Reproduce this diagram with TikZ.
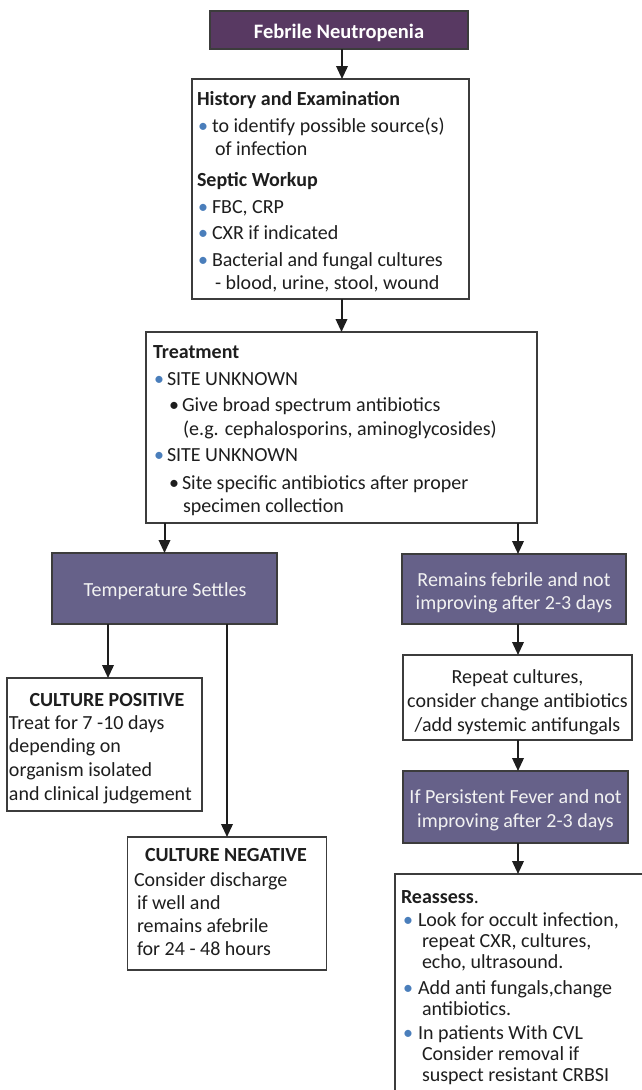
\documentclass[tikz,border=0pt]{standalone}
\usepackage{fontspec}
\setmainfont{Carlito}
\usetikzlibrary{arrows.meta,calc}
\definecolor{febr}{RGB}{88,57,98}
\definecolor{slate}{RGB}{102,97,137}
\definecolor{edge}{RGB}{60,60,60}
\definecolor{bulblue}{RGB}{74,126,187}
\definecolor{paletxt}{RGB}{242,242,242}
\definecolor{ink}{RGB}{30,30,30}
\newcommand{\fs}{\rule{0pt}{15pt}}
\newcommand{\bu}[3]{\hspace*{#1}\makebox[#2][l]{\textcolor{#3}{•}}}
\begin{document}
\begin{tikzpicture}[x=1pt,y=-1pt,
  box/.style={draw=edge, line width=1.3pt, anchor=north west, inner sep=0pt, outer sep=0pt},
  wbox/.style={box, fill=white},
  pbox/.style={box, fill=slate},
  txt/.style={inner sep=0pt, outer sep=0pt, text=ink, font=\fontsize{20}{23}\selectfont, align=left, anchor=north west},
  ctxt/.style={txt, align=center, anchor=north},
  btxt/.style={inner sep=0pt, outer sep=0pt, anchor=base, text=ink, font=\fontsize{20}{23}\selectfont},
  arr/.style={line width=2pt, draw=ink, -{Triangle[length=13pt,width=11.5pt]}}
]
\useasboundingbox (0,0) rectangle (642,1090);
\fill[white] (0,0) rectangle (642,1090);
\clip (0,0) rectangle (642,1090);

% top
\node[box, fill=febr, minimum width=258pt, minimum height=38pt] (fn) at (210,11) {};
\node[btxt, text=white, font=\fontsize{20.5}{23}\selectfont\bfseries] (fnt) at (339,38.5) {Febrile Neutropenia};

% history box
\node[wbox, minimum width=277pt, minimum height=220pt] (hx) at (192,79) {};
\node[txt] (hxt) at (197,90) {\fs\textbf{History and Examination}\\[4pt]
\bu{1pt}{14pt}{bulblue}to identify possible source(s)\\
\hspace*{18pt}of infection\\[8pt]
\textbf{Septic Workup}\\[4pt]
\bu{1pt}{14pt}{bulblue}FBC, CRP\\[3pt]
\bu{1pt}{14pt}{bulblue}CXR if indicated\\[4pt]
\bu{1pt}{14pt}{bulblue}Bacterial and fungal cultures\\
\hspace*{18pt}- blood, urine, stool, wound};

% treatment box
\node[wbox, minimum width=391pt, minimum height=191pt] (tr) at (146,332) {};
\node[txt] (trt) at (153,343) {\fs\textbf{Treatment}\\[4pt]
\bu{1pt}{13pt}{bulblue}SITE UNKNOWN\\[3pt]
\bu{16pt}{13pt}{ink}Give broad spectrum antibiotics\\[1pt]
\hspace*{30pt}(e.g. cephalosporins, aminoglycosides)\\[3pt]
\bu{1pt}{13pt}{bulblue}SITE UNKNOWN\\[5pt]
\bu{16pt}{13pt}{ink}Site specific antibiotics after proper\\
\hspace*{30pt}specimen collection};

% left column
\node[pbox, minimum width=225pt, minimum height=71pt] (ts) at (52,553) {};
\node[btxt, text=paletxt] (tst) at (165,596) {Temperature Settles};

\node[wbox, minimum width=195pt, minimum height=133pt] (cp) at (7,678) {};
\node[btxt, font=\fontsize{20}{23}\selectfont\bfseries] (cpt) at (107,706) {CULTURE POSITIVE};
\node[txt, font=\fontsize{20}{23.7}\selectfont] (cpb) at (9,714) {\fs Treat for 7 -10 days\\depending on\\organism isolated\\and clinical judgement};

\node[wbox, minimum width=199pt, minimum height=133pt] (cn) at (127.5,837) {};
\node[btxt, font=\fontsize{20}{23}\selectfont\bfseries] (cnt) at (226,861) {CULTURE NEGATIVE};
\node[txt] (cnb) at (134,871) {\fs Consider discharge\\\hspace*{3pt}if well and\\\hspace*{3pt}remains afebrile\\\hspace*{3pt}for 24 - 48 hours};

% right column
\node[pbox, minimum width=224pt, minimum height=70pt] (rf) at (402,554) {};
\node[ctxt, text=paletxt] (rft) at (514,571) {\fs Remains febrile and not\\improving after 2-3 days};

\node[wbox, minimum width=229pt, minimum height=85pt] (rc) at (403,655) {};
\node[ctxt] (rct) at (517.5,668) {\fs Repeat cultures,\\[1pt]consider change antibiotics\\[1pt]/add systemic antifungals};

\node[pbox, minimum width=225pt, minimum height=72pt] (pf) at (403,771) {};
\node[ctxt, text=paletxt] (pft) at (515.5,788) {\fs If Persistent Fever and not\\[1pt]improving after 2-3 days};

\node[wbox, minimum width=300pt, minimum height=260pt] (ra) at (395,874) {};
\node[txt, font=\fontsize{20}{21}\selectfont] (rat) at (401,888) {\fs\textbf{Reassess}.\\[2pt]
\bu{2pt}{15pt}{bulblue}Look for occult infection,\\
\hspace*{21pt}repeat CXR, cultures,\\
\hspace*{21pt}echo, ultrasound.\\[5pt]
\bu{2pt}{15pt}{bulblue}Add anti fungals,change\\
\hspace*{21pt}antibiotics.\\[3pt]
\bu{2pt}{15pt}{bulblue}In patients With CVL\\
\hspace*{21pt}Consider removal if\\
\hspace*{21pt}suspect resistant CRBSI};

% connectors
\coordinate (rx) at (518,0);
\coordinate (lx) at (108,0);
\draw[arr] ([xshift=3pt]fn.south) -- ([xshift=3pt]fn.south |- hx.north);
\draw[arr] (tr.north |- hx.south) -- (tr.north);
\draw[arr] (ts.north |- tr.south) -- (ts.north);
\draw[arr] (rx |- tr.south) -- (rx |- rf.north);
\draw[arr] (rx |- rf.south) -- (rx |- rc.north);
\draw[arr] (rx |- rc.south) -- (rx |- pf.north);
\draw[arr] (rx |- pf.south) -- (rx |- ra.north);
\draw[arr] (lx |- ts.south) -- (lx |- cp.north);
\draw[arr] (cn.north |- ts.south) -- (cn.north);
\end{tikzpicture}
\end{document}
